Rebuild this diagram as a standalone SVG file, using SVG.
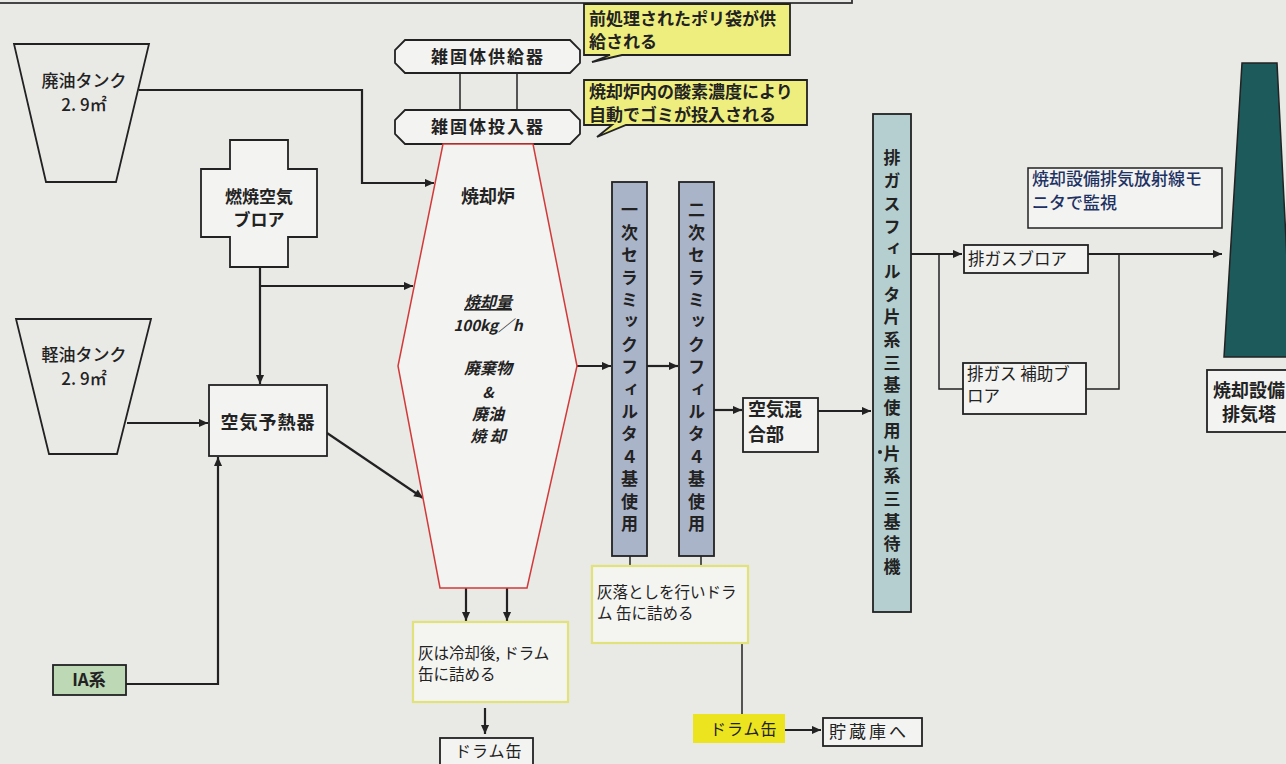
<svg xmlns="http://www.w3.org/2000/svg" width="1286" height="764" viewBox="0 0 1286 764">
<style>
text{font-family:"Noto Sans CJK JP","Noto Sans",sans-serif;fill:#222;}
.b{font-weight:bold;}
.m{font-weight:500;}
.c{text-anchor:middle;}
.vt{font-weight:bold;font-size:17px;writing-mode:vertical-rl;}
.it{font-style:italic;font-weight:bold;font-size:16px;text-anchor:middle;}
.box{fill:#f3f3f1;stroke:#222;stroke-width:1.8;}
.plain{fill:none;stroke:#222;stroke-width:1.8;}
.ln{fill:none;stroke:#222;stroke-width:2.2;}
.thin{fill:none;stroke:#222;stroke-width:1.5;}
.arr{marker-end:url(#ah);}
.call{fill:#eeee7e;stroke:#222;stroke-width:1.8;}
.ash{fill:#f4f4f1;stroke:#e2e27a;stroke-width:2.2;}
</style>
<defs>
<marker id="ah" viewBox="0 0 10 10" refX="10" refY="5" markerWidth="11" markerHeight="9" markerUnits="userSpaceOnUse" orient="auto">
<path d="M0,0.5 L10,5 L0,9.5 z" fill="#222"/>
</marker>
</defs>
<rect x="0" y="0" width="1286" height="764" fill="#e9e9e6"/>
<rect x="-5" y="-20" width="857" height="23" fill="none" stroke="#333" stroke-width="1.8"/>

<g id="connectors">
<path class="ln arr" d="M139,90 H362 V183 H434"/>
<path class="ln arr" d="M260,267 V384"/>
<path class="ln arr" d="M260,286 H413"/>
<path class="ln arr" d="M127,423 H208"/>
<path class="ln arr" d="M327,433 L423,498"/>
<path class="ln arr" d="M126,684 H218 V457"/>
<path class="ln arr" d="M577,366 H611"/>
<path class="ln arr" d="M647,366 H678"/>
<path class="ln arr" d="M714,410 H742"/>
<path class="ln arr" d="M818,411 H871"/>
<path class="ln arr" d="M911,254 H962"/>
<path class="thin" d="M939,254 V389 H963"/>
<path class="thin" d="M1086,389 H1119 V254"/>
<path class="ln arr" d="M1088,254 H1222"/>
<path class="ln arr" d="M466,588 V621"/>
<path class="ln arr" d="M507,588 V621"/>
<path class="ln arr" d="M485,708 V734"/>
<path class="thin" d="M630,556 V566"/>
<path class="thin" d="M701,556 V566"/>
<path class="thin" d="M742,643 V714"/>
<path class="ln arr" d="M785,730 H821"/>
<path class="thin" d="M460,73 V110"/>
<path class="thin" d="M517,73 V110"/>
</g>

<g id="waste-oil-tank">
<polygon class="plain" fill="#f1f1ee" points="14,44 149,44 116,182 46,182"/>
<text class="m c" font-size="17"><tspan x="84" y="87">廃油タンク</tspan><tspan x="84" y="111">2. 9㎡</tspan></text>
</g>

<g id="light-oil-tank">
<polygon class="plain" fill="#f1f1ee" points="16,319 151,319 117,454 49,454"/>
<text class="m c" font-size="17"><tspan x="84" y="361">軽油タンク</tspan><tspan x="84" y="385">2. 9㎡</tspan></text>
</g>

<g id="combustion-blower">
<path class="box" d="M230,140 H288 V169 H317 V237 H288 V267 H230 V237 H201 V169 H230 Z"/>
<text class="b c" font-size="17"><tspan x="259" y="203">燃焼空気</tspan><tspan x="259" y="226">ブロア</tspan></text>
</g>

<g id="air-preheater">
<rect class="box" x="209" y="385" width="118" height="71"/>
<text class="b c" x="268" y="429" font-size="18" letter-spacing="1">空気予熱器</text>
</g>

<g id="ia">
<rect x="53" y="665" width="73" height="30" fill="#bcd8b4" stroke="#222" stroke-width="1.8"/>
<text class="b c" x="89" y="686" font-size="17">IA系</text>
</g>

<g id="solid-feeder">
<path class="box" d="M405,40 H570 L580,50 V63 L570,73 H405 L395,63 V50 Z"/>
<text class="b c" x="488" y="63" font-size="17" letter-spacing="2">雑固体供給器</text>
</g>

<g id="solid-loader">
<path class="box" d="M405,110 H570 L580,120 V134 L570,144 H405 L395,134 V120 Z"/>
<text class="b c" x="488" y="133" font-size="17" letter-spacing="2">雑固体投入器</text>
</g>

<g id="callout-1">
<path class="call" d="M584,4 H790 V55 H622 L592,62 L610,55 H584 Z"/>
<text class="b" font-size="17"><tspan x="589" y="25">前処理されたポリ袋が供</tspan><tspan x="589" y="48">給される</tspan></text>
</g>

<g id="callout-2">
<path class="call" d="M584,80 H807 V125 H626 L597,137 L612,125 H584 Z"/>
<text class="b" font-size="17"><tspan x="589" y="98">焼却炉内の酸素濃度により</tspan><tspan x="589" y="121">自動でゴミが投入される</tspan></text>
</g>

<g id="furnace">
<polygon points="443,144 533,144 577,366 527,588 440,588 398,366" fill="#f3f3f1" stroke="#d23a3a" stroke-width="1.5"/>
<text class="b c" x="488" y="203" font-size="18">焼却炉</text>
<text class="it"><tspan x="488" y="308" text-decoration="underline">焼却量</tspan><tspan x="488" y="331" font-size="15">100kg／h</tspan><tspan x="488" y="374">廃棄物</tspan><tspan x="488" y="398" font-size="15">&amp;</tspan><tspan x="488" y="420">廃油</tspan><tspan x="488" y="442">焼 却</tspan></text>
</g>

<g id="primary-filter">
<rect x="612" y="182" width="35" height="374" fill="#aab4c9" stroke="#222" stroke-width="1.8"/>
<text class="vt" x="629.5" y="201.5" letter-spacing="5.4">一次セラミックフィルタ４基使用</text>
</g>

<g id="secondary-filter">
<rect x="679" y="182" width="35" height="374" fill="#aab4c9" stroke="#222" stroke-width="1.8"/>
<text class="vt" x="696.5" y="201.5" letter-spacing="5.4">二次セラミックフィルタ４基使用</text>
</g>

<g id="air-mixer">
<rect class="box" x="743" y="398" width="75" height="54"/>
<text class="b" font-size="18"><tspan x="748" y="416">空気混</tspan><tspan x="748" y="441">合部</tspan></text>
</g>

<g id="exhaust-filter">
<rect x="873" y="114" width="38" height="498" fill="#b5cfd0" stroke="#222" stroke-width="1.8"/>
<text class="vt" x="892" y="149.5" letter-spacing="5.7">排ガスフィルタ片系三基使用片系三基待機</text>
<circle cx="880" cy="452" r="2" fill="#222"/>
</g>

<g id="exhaust-blower">
<rect class="box" x="964" y="245" width="124" height="28"/>
<text x="968" y="265" font-size="16.5">排ガスブロア</text>
</g>

<g id="aux-blower">
<rect class="box" x="963" y="363" width="123" height="51"/>
<text font-size="16.5"><tspan x="967" y="380">排ガス 補助ブ</tspan><tspan x="967" y="402">ロア</tspan></text>
</g>

<g id="monitor-note">
<rect x="1028" y="168" width="194" height="60" fill="#f3f3f1" stroke="#222" stroke-width="1.5"/>
<text class="m" font-size="17" style="fill:#1e3264"><tspan x="1032" y="185">焼却設備排気放射線モ</tspan><tspan x="1032" y="209">ニタで監視</tspan></text>
</g>

<g id="stack">
<polygon points="1242,63 1277,63 1292,357 1224,357" fill="#1c5a5b" stroke="#222" stroke-width="1.5"/>
</g>

<g id="stack-label">
<rect class="box" x="1207" y="370" width="95" height="62"/>
<text class="b" font-size="18"><tspan x="1213" y="397">焼却設備</tspan><tspan x="1222" y="421">排気塔</tspan></text>
</g>

<g id="ash-note-1">
<rect class="ash" x="413" y="622" width="155" height="80"/>
<text font-size="15.5"><tspan x="418" y="659">灰は冷却後, ドラム</tspan><tspan x="418" y="680">缶に詰める</tspan></text>
</g>

<g id="drum-1">
<rect class="box" x="440" y="738" width="93" height="34"/>
<text x="455" y="757" font-size="16" letter-spacing="1">ドラム缶</text>
</g>

<g id="ash-note-2">
<rect class="ash" x="592" y="566" width="156" height="77"/>
<text font-size="15.5"><tspan x="597" y="598">灰落としを行いドラ</tspan><tspan x="597" y="619">ム 缶に詰める</tspan></text>
</g>

<g id="drum-2">
<rect x="693" y="714" width="92" height="29" fill="#ece41e"/>
<text x="710" y="735" font-size="16" letter-spacing="1">ドラム缶</text>
</g>

<g id="storage">
<rect class="box" x="823" y="718" width="99" height="28"/>
<text x="829" y="738" font-size="17" letter-spacing="3">貯蔵庫へ</text>
</g>
</svg>
